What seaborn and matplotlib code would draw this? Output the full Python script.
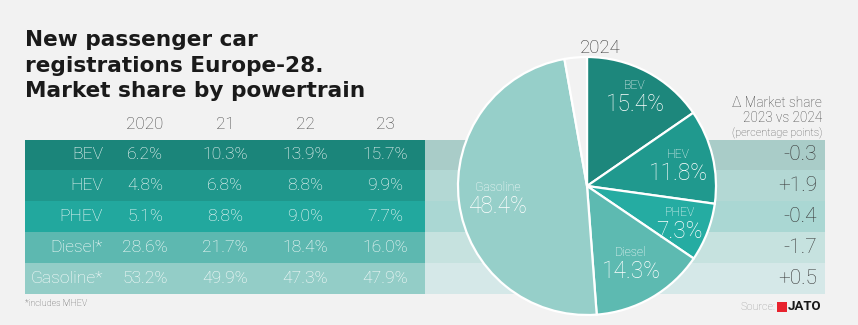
import numpy as np
import matplotlib
matplotlib.use("Agg")
import matplotlib.pyplot as plt
import seaborn as sns
from matplotlib.colors import ListedColormap
from matplotlib.patches import Rectangle

# ---------------- data ----------------
powertrains = ["BEV", "HEV", "PHEV", "Diesel*", "Gasoline*"]
years = ["2020", "21", "22", "23"]
share_2020 = [6.2, 4.8, 5.1, 28.6, 53.2]
share_2021 = [10.3, 6.8, 8.8, 21.7, 49.9]
share_2022 = [13.9, 8.8, 9.0, 18.4, 47.3]
share_2023 = [15.7, 9.9, 7.7, 16.0, 47.9]
pie_labels = ["BEV", "HEV", "PHEV", "Diesel", "Gasoline"]
share_2024 = [15.4, 11.8, 7.3, 14.3, 48.4]
delta_pp = [-0.3, 1.9, -0.4, -1.7, 0.5]
title_lines = ["New passenger car", "registrations Europe-28.", "Market share by powertrain"]

# ---------------- style ----------------
W, H = 858, 325
BG = "#f2f2f2"
row_colors = ["#1b857a", "#1f978c", "#22a89e", "#5db8b0", "#93cdc7"]
strip_colors = ["#a9ccc8", "#b3d8d4", "#aad7d3", "#c6e2df", "#d5e8e8"]
pie_colors = ["#1d877c", "#20998e", "#25aca2", "#5dbab1", "#96cfc9"]
label_r = [0.80, 0.73, 0.77, 0.68, 0.70]

sns.set_theme(style="white")
plt.rcParams["font.family"] = ["Roboto", "DejaVu Sans"]

fig = plt.figure(figsize=(W / 100, H / 100), dpi=100, facecolor=BG)


def fx(px):
    return px / W


def fy(py):
    return 1 - py / H


# ---------------- table (heatmap) ----------------
tab_top, tab_bot = 139.5, 294.0
ax_t = fig.add_axes([fx(25), fy(tab_bot), 400 / W, (tab_bot - tab_top) / H])
series = [share_2020, share_2021, share_2022, share_2023]
n = len(powertrains)
data = np.repeat(np.arange(n)[:, None], len(years) + 1, axis=1)
annot = np.array([[""] + [f"{s[i]:.1f}%" for s in series] for i in range(n)], dtype=object)
sns.heatmap(data, ax=ax_t, cmap=ListedColormap(row_colors), vmin=-0.5, vmax=n - 0.5,
            cbar=False, annot=annot, fmt="", xticklabels=False, yticklabels=False,
            annot_kws=dict(color="white", fontsize=12.6, fontweight="light"))
for i, lab in enumerate(powertrains):
    ax_t.text(0.975, i + 0.5, lab, ha="right", va="center", color="white",
              fontsize=12.6, fontweight="light")
for j, yr in enumerate(years):
    ax_t.text(j + 1.5, -0.5, yr, ha="center", va="center", color="#444444",
              fontsize=12.3, fontweight="light")

# ---------------- light strip behind pie ----------------
ax_s = fig.add_axes([fx(425), fy(tab_bot), 400 / W, (tab_bot - tab_top) / H])
sns.heatmap(data[:, :1], ax=ax_s, cmap=ListedColormap(strip_colors), vmin=-0.5, vmax=n - 0.5,
            cbar=False, xticklabels=False, yticklabels=False)
for i, d in enumerate(delta_pp):
    ax_s.text(0.98, i + 0.5, f"{d:+.1f}", ha="right", va="center", color="#383838",
              fontsize=15, fontweight="light")

# ---------------- pie ----------------
R = 129
cx, cy = 587, 186
ax_p = fig.add_axes([fx(cx - R), fy(cy + R), 2 * R / W, 2 * R / H], zorder=5)
ax_p.set_facecolor("none")
other = round(100 - sum(share_2024), 1)
wedges, _ = ax_p.pie(share_2024 + [other], colors=pie_colors + [BG], startangle=90,
                     counterclock=False,
                     wedgeprops=dict(edgecolor="white", linewidth=1.6))
for w in wedges:
    w.set_clip_on(False)
ax_p.set_xlim(-1, 1)
ax_p.set_ylim(-1, 1)
off = 0.074
for w, lab, val, r in zip(wedges, pie_labels, share_2024, label_r):
    th = np.deg2rad((w.theta1 + w.theta2) / 2)
    x, y = r * np.cos(th), r * np.sin(th)
    ax_p.text(x, y + off, lab, ha="center", va="center", color="white",
              fontsize=8.8, fontweight="light")
    ax_p.text(x, y - off, f"{val:.1f}%", ha="center", va="center", color="white",
              fontsize=16.3, fontweight="light")

# ---------------- texts ----------------
for k, (line, base) in enumerate(zip(title_lines, [46, 72, 97])):
    fig.text(fx(25), fy(base), line, ha="left", va="baseline", fontsize=15.6,
             fontweight="bold", color="#1a1a1a", family="DejaVu Sans")
fig.text(fx(600), fy(48), "2024", ha="center", va="center", fontsize=13.4,
         fontweight="light", color="#333333")
fig.text(fx(822), fy(103), "Δ Market share", ha="right", va="center", fontsize=9.8,
         fontweight="light", color="#444444")
fig.text(fx(822), fy(118), "2023 vs 2024", ha="right", va="center", fontsize=9.8,
         fontweight="light", color="#444444")
fig.text(fx(822), fy(133), "(percentage points)", ha="right", va="center", fontsize=7.8,
         fontweight="light", color="#555555")
fig.text(fx(25), fy(304), "*includes MHEV", ha="left", va="center", fontsize=6.5,
         fontweight="light", color="#555555")
fig.text(fx(775), fy(307), "Source:", ha="right", va="center", fontsize=7.8,
         fontweight="light", color="#999999")
fig.patches.append(Rectangle((fx(777), fy(312)), 10 / W, 10 / H, transform=fig.transFigure,
                             facecolor="#e8232e", edgecolor="none"))
fig.text(fx(788), fy(307), "JATO", ha="left", va="center", fontsize=9.5,
         fontweight="bold", color="#1a1a1a")

fig.savefig("out.png", dpi=100, facecolor=BG)
